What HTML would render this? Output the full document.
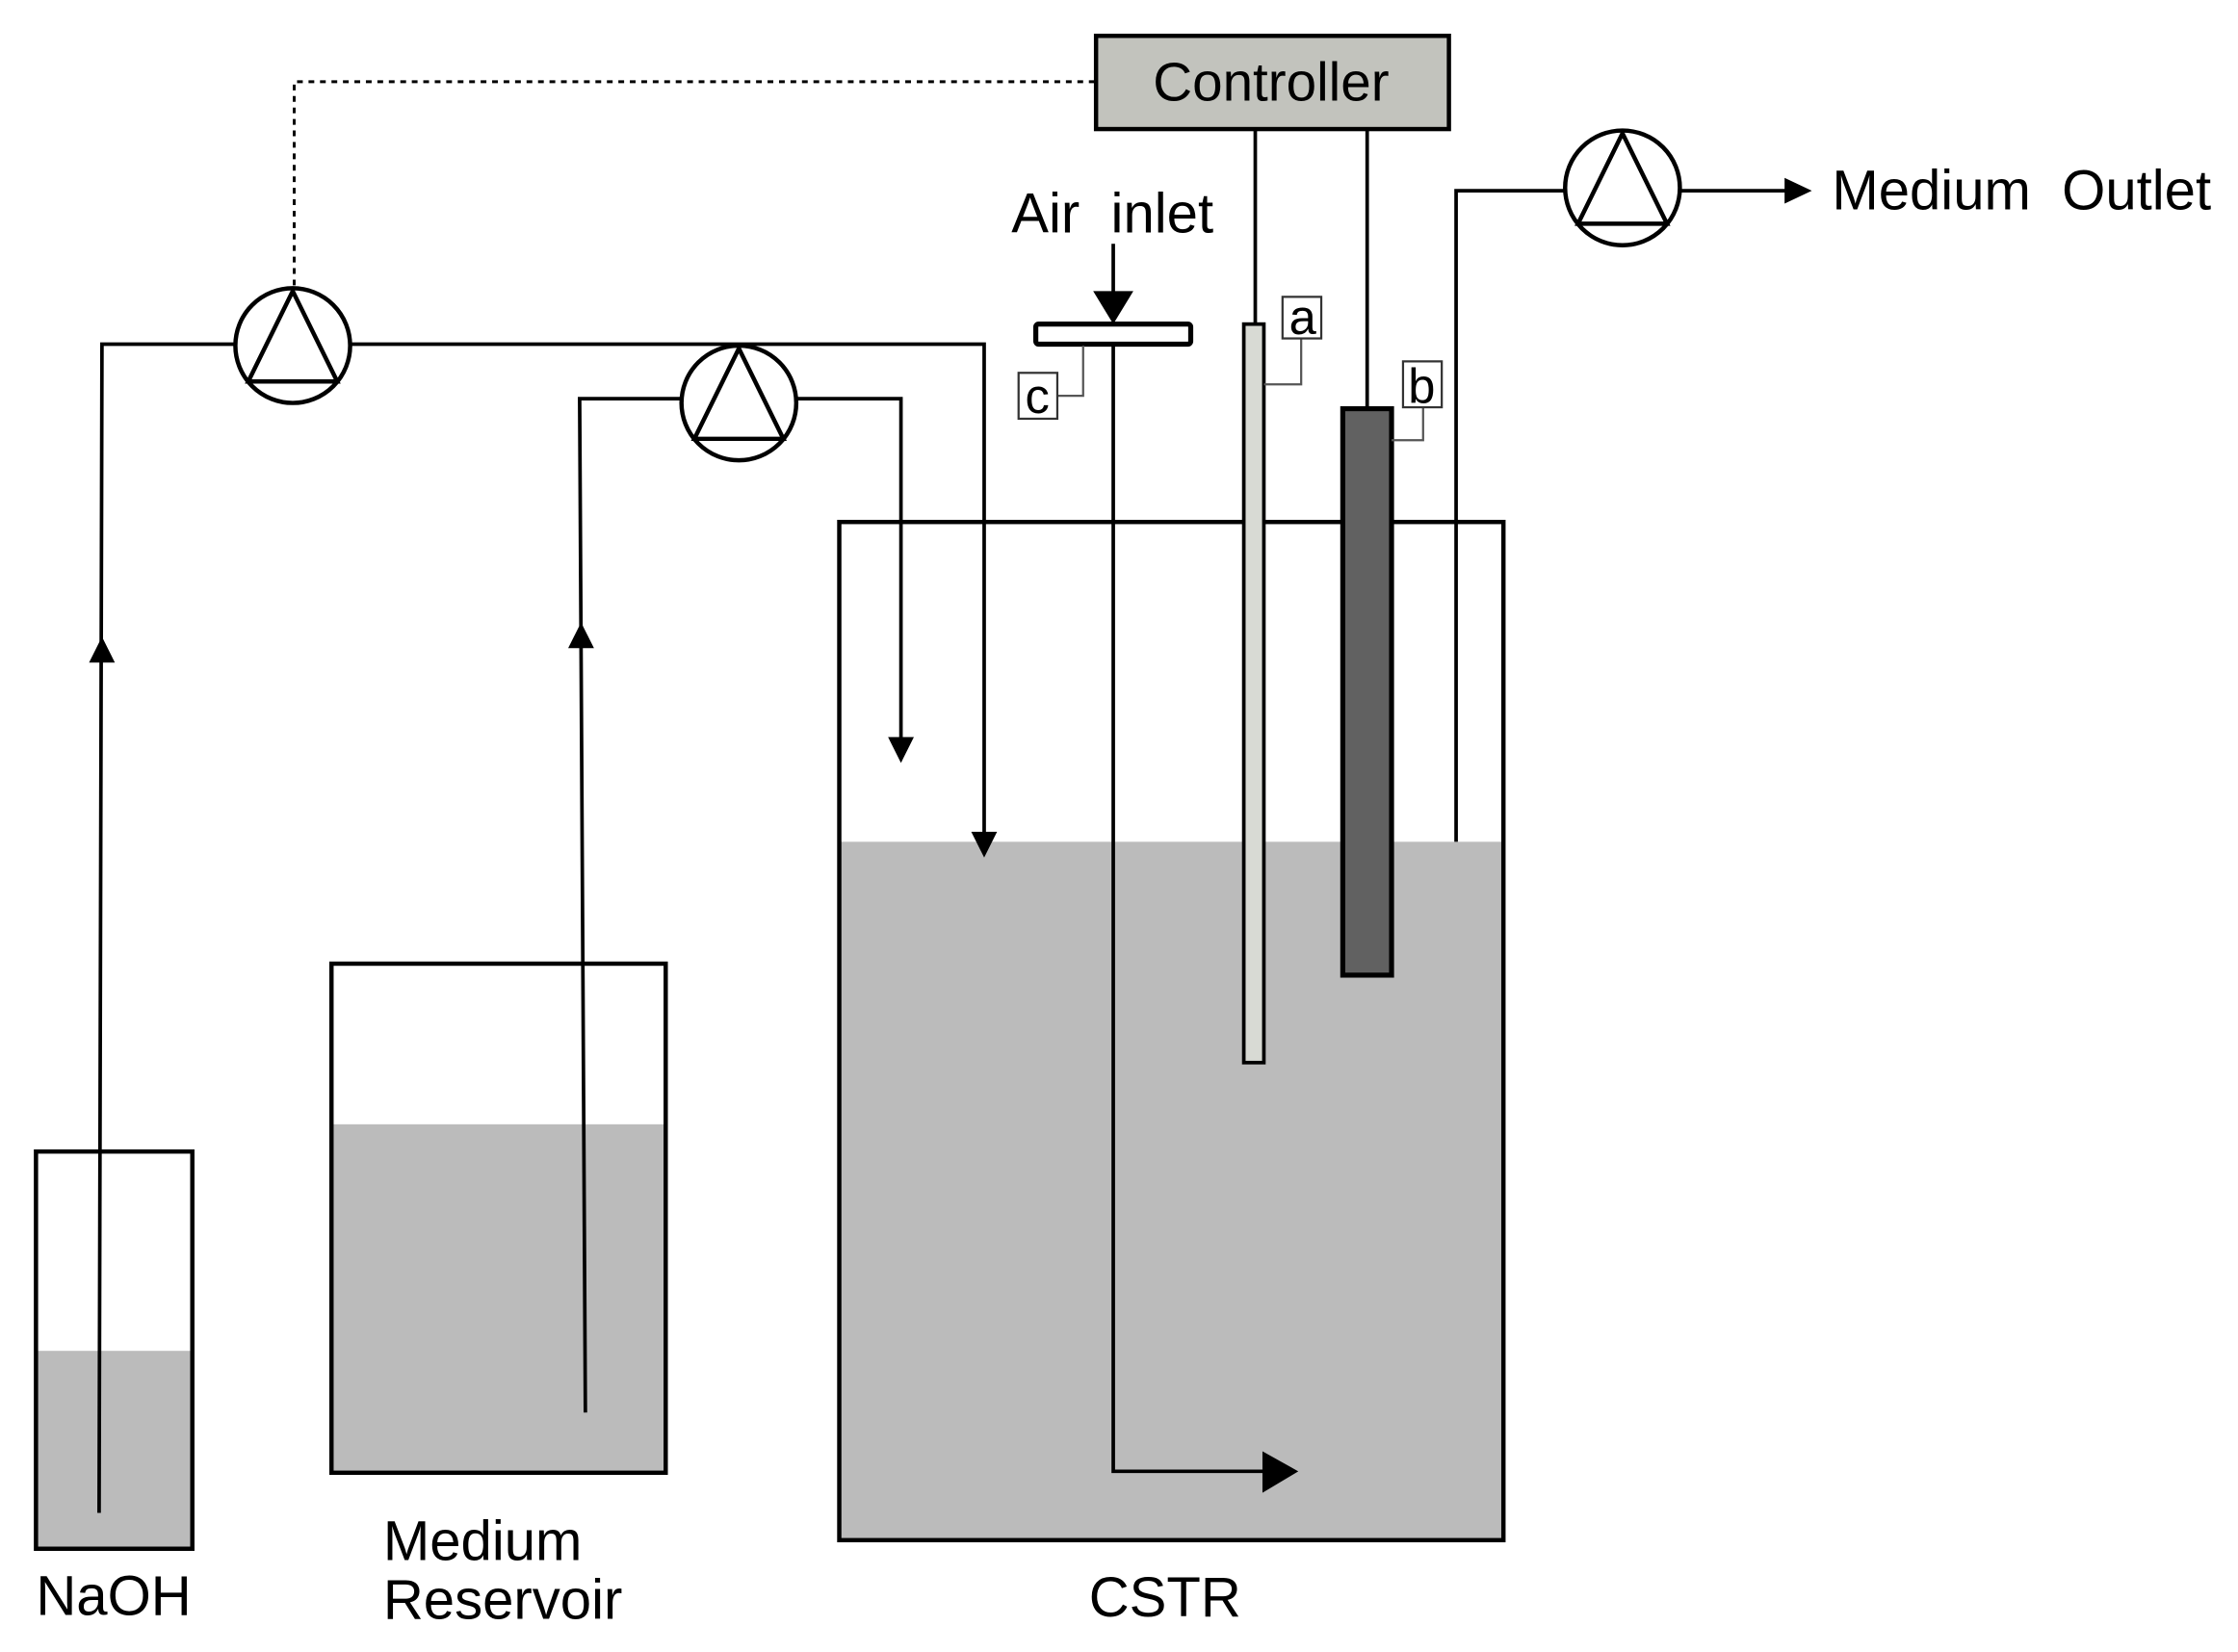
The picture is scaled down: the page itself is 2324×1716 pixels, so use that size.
<!DOCTYPE html>
<html><head><style>html,body{margin:0;padding:0;background:#fff}svg{display:block}</style></head>
<body>
<svg width="2324" height="1716" viewBox="0 0 1560 1152" xmlns="http://www.w3.org/2000/svg" font-family="Liberation Sans, sans-serif">
<rect x="25" y="942" width="109" height="138" fill="#bbbbbb"/>
<rect x="25" y="803" width="109" height="277" fill="none" stroke="#000" stroke-width="3"/>
<rect x="231" y="784" width="233" height="243" fill="#bbbbbb"/>
<rect x="231" y="672" width="233" height="355" fill="none" stroke="#000" stroke-width="3"/>
<rect x="585" y="587" width="463" height="487" fill="#bbbbbb"/>
<rect x="585" y="364" width="463" height="710" fill="none" stroke="#000" stroke-width="3"/>

<rect x="764" y="25" width="246" height="65" fill="#c2c3bd" stroke="#000" stroke-width="3"/>
<text x="886" y="70" font-size="38" text-anchor="middle">Controller</text>
<polyline points="763,57 205,57 205,200" fill="none" stroke="#000" stroke-width="2" stroke-dasharray="4,4"/>

<g fill="none" stroke="#000" stroke-width="2.5">
<polyline points="69,1055 71,240 164,240"/>
<polyline points="244,240 686,240 686,585"/>
<polyline points="408,985 404,278 475,278"/>
<polyline points="555,278 628,278 628,520"/>
<line x1="776" y1="170" x2="776" y2="210"/>
<polyline points="776,240 776,1026 885,1026"/>
<line x1="875" y1="90" x2="875" y2="226"/>
<line x1="953" y1="90" x2="953" y2="285"/>
<polyline points="1015,587 1015,133 1091,133"/>
<line x1="1171" y1="133" x2="1250" y2="133"/>
</g>
<g fill="#000">
<polygon points="62,462 80,462 71,444"/>
<polygon points="396,452 414,452 405,434"/>
<polygon points="619,514 637,514 628,532"/>
<polygon points="677,580 695,580 686,598"/>
<polygon points="762,203 790,203 776,226"/>
<polygon points="880,1012 880,1041 905,1026"/>
<polygon points="1244,124 1244,142 1263,133"/>
</g>
<g fill="#fff" stroke="#000" stroke-width="3">
<circle cx="204" cy="241" r="40"/>
<circle cx="515" cy="281" r="40"/>
<circle cx="1131" cy="131" r="40"/>
</g>
<g fill="none" stroke="#000" stroke-width="3">
<polygon points="204,203 173,266 235,266"/>
<polygon points="515,243 484,306 546,306"/>
<polygon points="1131,93 1100,156 1162,156"/>
</g>
<rect x="722" y="226" width="108" height="14" rx="2" fill="#fff" stroke="#000" stroke-width="3.5"/>
<rect x="867" y="226" width="14" height="515" fill="#d8dad4" stroke="#000" stroke-width="2.5"/>
<rect x="936" y="285" width="34" height="395" fill="#616161" stroke="#000" stroke-width="3.5"/>
<g fill="none" stroke="#555" stroke-width="1.5">
<polyline points="881,268 907,268 907,236"/>
<polyline points="970,307 992,307 992,284"/>
<polyline points="737,276 755,276 755,241"/>
</g>
<g fill="#fff" stroke="#333" stroke-width="1.5">
<rect x="894" y="207" width="27" height="29"/>
<rect x="978" y="252" width="27" height="32"/>
<rect x="710" y="260" width="27" height="32"/>
</g>
<g font-size="34" text-anchor="middle">
<text x="908" y="233">a</text>
<text x="991" y="281">b</text>
<text x="723" y="288">c</text>
</g>
<g font-size="39">
<text x="705" y="162">Air&#160; inlet</text>
<text x="1277" y="146">Medium&#160; Outlet</text>
<text x="25" y="1126">NaOH</text>
<text x="267" y="1088">Medium</text>
<text x="267" y="1129">Reservoir</text>
<text x="759" y="1127">CSTR</text>
</g>
</svg>
</body></html>
